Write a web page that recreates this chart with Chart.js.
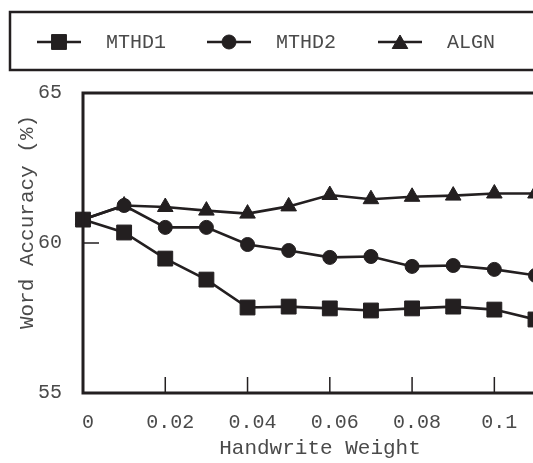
<!DOCTYPE html>
<html>
<head>
<meta charset="utf-8">
<script src="https://cdn.jsdelivr.net/npm/chart.js@4/dist/chart.umd.min.js"></script>
<style>
	html, body { margin: 0; padding: 0; background: #fff; overflow: hidden; }
</style>
</head>
<body>
<canvas id="chart" width="533" height="463"></canvas>
<script>
const weights = [0, 0.01, 0.02, 0.03, 0.04, 0.05, 0.06, 0.07, 0.08, 0.09, 0.1, 0.11];
const mthd1 = [60.78, 60.35, 59.48, 58.78, 57.85, 57.88, 57.82, 57.75, 57.82, 57.88, 57.78, 57.45];
const mthd2 = [60.78, 61.25, 60.52, 60.52, 59.95, 59.75, 59.52, 59.55, 59.22, 59.25, 59.12, 58.92];
const algn = [60.78, 61.25, 61.2, 61.08, 60.98, 61.22, 61.6, 61.46, 61.54, 61.58, 61.65, 61.65];
const seriesNames = ["MTHD1", "MTHD2", "ALGN"];
const xTicks = [0, 0.02, 0.04, 0.06, 0.08, 0.1];
const yTicks = [55, 60, 65];

const textColor = "#4a4a4a";
const lineColor = "#231f20";
const monoFont = "'Liberation Mono', 'DejaVu Sans Mono', monospace";

function toPoints(values) {
	return values.map((v, i) => ({ x: weights[i], y: v }));
}

function makeDataset(label, values, style, radius) {
	return {
		label: label,
		data: toPoints(values),
		borderColor: lineColor,
		backgroundColor: lineColor,
		borderWidth: 2.6,
		pointStyle: style,
		pointRadius: radius,
		pointBorderWidth: 1,
		pointBackgroundColor: lineColor,
		pointBorderColor: lineColor,
		tension: 0,
		clip: false,
	};
}

// the page is cropped on the right, so markers past the chart area are drawn here
const edgePointsPlugin = {
	id: "edgePoints",
	afterDatasetsDraw(chart) {
		const ctx = chart.ctx;
		const area = chart.chartArea;
		for (let i = chart.data.datasets.length - 1; i >= 0; i--) {
			const meta = chart.getDatasetMeta(i);
			meta.data.forEach((el) => {
				if (el.x <= area.right) return;
				ctx.save();
				ctx.fillStyle = el.options.backgroundColor;
				ctx.strokeStyle = el.options.borderColor;
				ctx.lineWidth = el.options.borderWidth;
				Chart.helpers.drawPoint(ctx, el.options, el.x, el.y);
				ctx.restore();
			});
		}
	},
};

// frame, inward ticks, axis titles and the boxed legend
const framePlugin = {
	id: "frame",
	afterDraw(chart) {
		const ctx = chart.ctx;
		const area = chart.chartArea;
		const xs = chart.scales.x;
		const ys = chart.scales.y;
		ctx.save();
		ctx.strokeStyle = lineColor;
		ctx.lineWidth = 3;
		ctx.beginPath();
		ctx.moveTo(chart.width + 5, area.top);
		ctx.lineTo(area.left, area.top);
		ctx.lineTo(area.left, area.bottom);
		ctx.lineTo(chart.width + 5, area.bottom);
		ctx.stroke();

		ctx.lineWidth = 1.5;
		ctx.beginPath();
		xs.ticks.forEach((t) => {
			if (t.value <= xs.min) return;
			const px = xs.getPixelForValue(t.value);
			ctx.moveTo(px, area.bottom);
			ctx.lineTo(px, area.bottom - 16);
		});
		ys.ticks.forEach((t) => {
			if (t.value <= ys.min || t.value >= ys.max) return;
			const py = ys.getPixelForValue(t.value);
			ctx.moveTo(area.left, py);
			ctx.lineTo(area.left + 16, py);
		});
		ctx.stroke();

		ctx.fillStyle = textColor;
		ctx.font = "21px " + monoFont;
		ctx.textAlign = "center";
		ctx.textBaseline = "middle";
		ctx.fillText("Handwrite Weight", 320, 448);
		ctx.save();
		ctx.translate(27, 222);
		ctx.rotate(-Math.PI / 2);
		ctx.fillText("Word Accuracy (%)", 0, 0);
		ctx.restore();

		// legend box
		ctx.lineWidth = 2.5;
		ctx.strokeRect(10, 12, 700, 58);
		const items = [
			{ lineX: 37, textX: 106 },
			{ lineX: 207, textX: 276 },
			{ lineX: 378, textX: 447 },
		];
		const ly = 42;
		ctx.font = "20px " + monoFont;
		ctx.textAlign = "left";
		chart.data.datasets.forEach((ds, i) => {
			const it = items[i];
			ctx.strokeStyle = lineColor;
			ctx.lineWidth = 2.6;
			ctx.beginPath();
			ctx.moveTo(it.lineX, ly);
			ctx.lineTo(it.lineX + 44, ly);
			ctx.stroke();
			ctx.fillStyle = lineColor;
			ctx.lineWidth = 1;
			Chart.helpers.drawPoint(ctx, {
				pointStyle: ds.pointStyle,
				radius: ds.pointRadius,
				rotation: 0,
				borderWidth: 1,
			}, it.lineX + 22, ly + (ds.pointStyle === "triangle" ? 2 : 0));
			ctx.fillStyle = textColor;
			ctx.fillText(seriesNames[i], it.textX, ly + 1);
		});
		ctx.restore();
	},
};

new Chart(document.getElementById("chart").getContext("2d"), {
	type: "line",
	data: {
		datasets: [
			makeDataset(seriesNames[0], mthd1, "rect", 10.5),
			makeDataset(seriesNames[1], mthd2, "circle", 7),
			makeDataset(seriesNames[2], algn, "triangle", 9),
		],
	},
	options: {
		responsive: false,
		animation: false,
		layout: { padding: { top: 93, right: 0, left: 0, bottom: 0 } },
		plugins: {
			legend: { display: false },
			tooltip: { enabled: false },
		},
		scales: {
			x: {
				type: "linear",
				min: 0,
				max: 0.1066,
				afterFit: (scale) => { scale.height = 70; },
				afterBuildTicks: (scale) => { scale.ticks = xTicks.map((v) => ({ value: v })); },
				grid: { display: false, drawTicks: false },
				border: { display: false },
				ticks: {
					padding: 18,
					labelOffset: 5,
					color: textColor,
					font: { family: monoFont, size: 20 },
					callback: (v) => String(Math.round(v * 100) / 100),
				},
			},
			y: {
				min: 55,
				max: 65,
				afterFit: (scale) => { scale.width = 83; },
				afterBuildTicks: (scale) => { scale.ticks = yTicks.map((v) => ({ value: v })); },
				grid: { display: false, drawTicks: false },
				border: { display: false },
				ticks: {
					padding: 21,
					color: textColor,
					font: { family: monoFont, size: 20 },
				},
			},
		},
	},
	plugins: [edgePointsPlugin, framePlugin],
});
</script>
</body>
</html>
